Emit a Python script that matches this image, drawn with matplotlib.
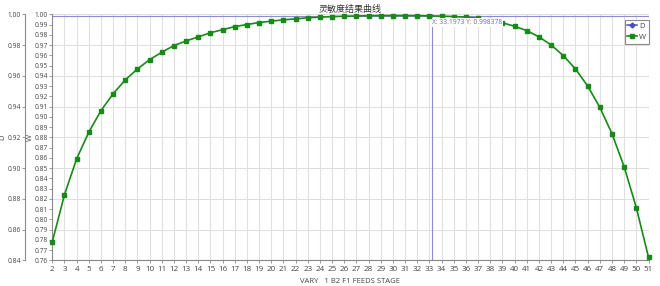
import matplotlib
matplotlib.use("Agg")
import matplotlib.pyplot as plt

plt.rcParams['font.family'] = ['Open Sans', 'Noto Sans CJK SC', 'DejaVu Sans']

# data
stage = list(range(2, 52))
w_vals = [0.778, 0.824, 0.859, 0.885, 0.906, 0.9225, 0.936, 0.9467, 0.9558, 0.963,
          0.9695, 0.974, 0.978, 0.982, 0.985, 0.988, 0.990, 0.992, 0.9933, 0.9946,
          0.9956, 0.9966, 0.9972, 0.9978, 0.9981, 0.9984, 0.9986, 0.9988, 0.9988, 0.9988,
          0.9987, 0.9985, 0.9982, 0.9978, 0.9972, 0.9962, 0.9944, 0.9917, 0.9883, 0.9841,
          0.978, 0.970, 0.9597, 0.9467, 0.930, 0.9092, 0.8835, 0.8512, 0.8114, 0.763]
d_vals = []
cross_x = 33.1973
cross_y = 0.998378
d_ticks = [0.84, 0.86, 0.88, 0.90, 0.92, 0.94, 0.96, 0.98, 1.00]
w_ticks = [0.76 + 0.01 * i for i in range(25)]

title = "灵敏度结果曲线"
xlabel = "VARY   1 B2 F1 FEEDS STAGE"

green = '#178a17'
blue = '#4a4ac8'
cross_c = '#8c8cd0'
spine_c = '#8a8a8a'
grid_c = '#e0e0e0'
text_c = '#444444'

fig = plt.figure(figsize=(6.6, 2.86), dpi=100)
ax_d = fig.add_axes([52.3 / 660, 1 - 260.3 / 286, (648.5 - 52.3) / 660, (260.3 - 14.3) / 286])
ax_w = ax_d.twinx()

# D axis (outer, carries the grid)
ax_d.set_xlim(2, 51)
ax_d.set_ylim(0.84, 1.00)
ax_d.set_yticks(d_ticks)
ax_d.set_yticklabels(["%.2f" % v for v in d_ticks])
ax_d.set_xticks(stage)
ax_d.grid(True, color=grid_c, linewidth=0.8)
ax_d.set_axisbelow(True)
ax_d.spines['left'].set_position(('outward', 27 * 0.72))  # 27 px
for s in ['top', 'right']:
    ax_d.spines[s].set_visible(False)
for s in ['left', 'bottom']:
    ax_d.spines[s].set_color(spine_c)
    ax_d.spines[s].set_linewidth(0.8)
ax_d.tick_params(axis='both', length=2, width=0.6, color=spine_c, labelcolor=text_c, labelsize=4.8, pad=1)
ax_d.tick_params(axis='x', labelsize=5.8, pad=2)
ax_d.set_ylabel("D", fontsize=5.5, color=text_c)
ax_d.yaxis.set_label_coords(-0.0775, 0.5)
ax_d.set_xlabel(xlabel, fontsize=5.5, color=text_c, labelpad=4)
ax_d.plot(d_vals, d_vals, color=blue, marker='D', markersize=2.5, linewidth=1.1, label='D')

# W axis (inner)
ax_w.set_ylim(0.76, 1.00)
ax_w.set_yticks(w_ticks)
ax_w.set_yticklabels(["%.2f" % v for v in w_ticks])
ax_w.yaxis.tick_left()
ax_w.yaxis.set_label_position('left')
ax_w.spines['left'].set_visible(True)
ax_w.spines['left'].set_color(spine_c)
ax_w.spines['left'].set_linewidth(0.8)
for s in ['top', 'right', 'bottom']:
    ax_w.spines[s].set_visible(False)
ax_w.tick_params(axis='y', length=2, width=0.6, color=spine_c, labelcolor=text_c, labelsize=4.8, pad=1)
ax_w.set_ylabel("W", fontsize=5.5, color=text_c)
ax_w.yaxis.set_label_coords(-0.0305, 0.5)

ax_w.plot(stage, w_vals, color=green, marker='s', markersize=2.3, linewidth=1.2,
          clip_on=False, zorder=3, label='W')

# crosshair
ax_w.axvline(cross_x, color=cross_c, linewidth=0.8, zorder=2)
ax_w.axhline(cross_y, color=cross_c, linewidth=0.8, zorder=2)
ax_w.text(cross_x + 0.05, cross_y - 0.0028, "X: %.4f Y: %.6f" % (cross_x, cross_y),
          fontsize=4.9, color='#6a6ab4', ha='left', va='top', zorder=5,
          bbox=dict(facecolor='white', edgecolor='none', pad=0.5))

h1, l1 = ax_d.get_legend_handles_labels()
h2, l2 = ax_w.get_legend_handles_labels()
leg = ax_w.legend(h1 + h2, l1 + l2, loc='upper right', bbox_to_anchor=(1.0, 0.977),
                  borderaxespad=0, fontsize=5.5, handlelength=1.2, handletextpad=0.3,
                  borderpad=0.35, labelspacing=0.5, fancybox=False, framealpha=1,
                  edgecolor=spine_c)
leg.get_frame().set_linewidth(0.8)
for t in leg.get_texts():
    t.set_color(text_c)

ax_d.set_title(title, fontsize=6.5, color='#333333', pad=2)

fig.savefig("out.png", dpi=100)
